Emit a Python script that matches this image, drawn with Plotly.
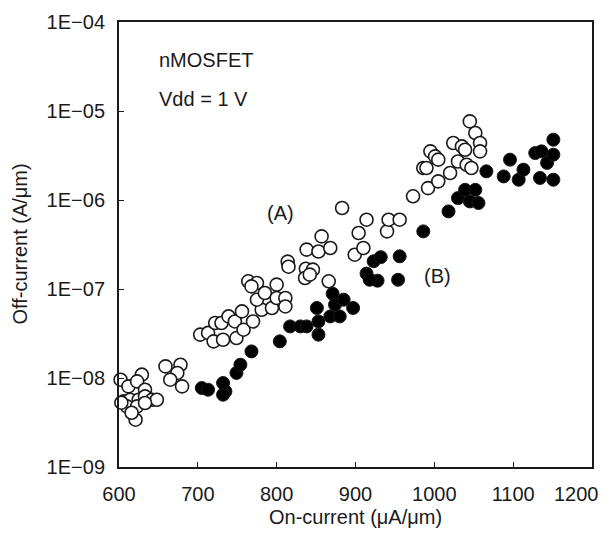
import plotly.graph_objects as go

# Series (A): open circles
a_on = [602, 612, 629, 623, 633, 606, 614, 625, 633, 642, 648, 610, 623, 633, 621, 616, 603,
        659, 678, 674, 665, 680,
        703, 713, 722, 720, 730, 732, 739, 749, 747, 758, 756, 770,
        764, 775, 768, 781, 775, 785, 800, 794, 800, 811, 811,
        814, 815, 837, 846, 836, 842, 866, 838, 853, 868, 857,
        883, 899, 910, 904, 914, 940, 942, 956,
        973, 992, 1005, 1020, 986, 990, 995, 1001, 1005, 1024, 1035, 1039, 1030, 1041, 1047,
        1045, 1052, 1058, 1058]
a_off = [9.57e-9, 8.05e-9, 1.09e-8, 9.16e-9, 7.39e-9, 5.46e-9, 5.70e-9, 5.70e-9, 6.21e-9, 5.70e-9,
         5.70e-9, 4.80e-9, 4.80e-9, 5.24e-9, 3.40e-9, 4.07e-9, 5.28e-9,
         1.35e-8, 1.41e-8, 1.14e-8, 9.57e-9, 8.05e-9,
         3.07e-8, 3.21e-8, 4.15e-8, 2.58e-8, 4.15e-8, 2.69e-8, 4.92e-8, 2.81e-8, 4.32e-8, 3.49e-8,
         5.60e-8, 4.32e-8,
         1.22e-7, 1.17e-7, 1.07e-7, 5.85e-8, 7.58e-8, 9.02e-8, 1.12e-7, 6.12e-8, 7.92e-8, 7.92e-8,
         6.37e-8,
         2.03e-7, 1.78e-7, 1.69e-7, 1.65e-7, 1.33e-7, 1.45e-7, 1.22e-7, 2.77e-7, 2.64e-7, 2.89e-7,
         3.90e-7,
         8.13e-7, 2.43e-7, 2.89e-7, 4.26e-7, 6.01e-7, 4.44e-7, 6.01e-7, 6.01e-7,
         1.10e-6, 1.36e-6, 1.62e-6, 2.01e-6, 2.29e-6, 2.29e-6, 3.52e-6, 3.09e-6, 2.84e-6, 4.37e-6,
         4.00e-6, 3.67e-6, 2.71e-6, 2.49e-6, 2.29e-6,
         7.64e-6, 5.66e-6, 4.37e-6, 3.52e-6]

# Series (B): filled circles
b_on = [705, 713, 735, 732, 732, 749, 754, 768,
        804, 817, 830, 838, 853, 853, 851, 868, 880, 871, 874, 885, 897,
        914, 923, 932, 928, 918, 954, 956, 986,
        1018, 1030, 1039, 1045, 1052, 1056,
        1066, 1088, 1096, 1107, 1113, 1128, 1136, 1134, 1143, 1151, 1151, 1151]
b_off = [7.72e-9, 7.39e-9, 7.07e-9, 6.49e-9, 8.78e-9, 1.14e-8, 1.41e-8, 1.99e-8,
         2.58e-8, 3.80e-8, 3.80e-8, 3.80e-8, 3.07e-8, 4.32e-8, 6.12e-8, 4.92e-8, 4.92e-8, 8.85e-8,
         6.67e-8, 7.58e-8, 6.12e-8,
         1.49e-7, 2.05e-7, 2.28e-7, 1.24e-7, 1.27e-7, 1.27e-7, 2.33e-7, 4.44e-7,
         7.45e-7, 1.05e-6, 1.30e-6, 9.64e-7, 1.30e-6, 9.25e-7,
         2.10e-6, 1.84e-6, 2.84e-6, 1.69e-6, 2.19e-6, 3.37e-6, 3.52e-6, 1.77e-6, 2.61e-6, 4.76e-6,
         3.23e-6, 1.69e-6]

x_ticks = [600, 700, 800, 900, 1000, 1100, 1200]
x_tick_text = ["600", "700", "800", "900", "1000", "1100", "1200"]
y_ticks = [1e-9, 1e-8, 1e-7, 1e-6, 1e-5, 1e-4]
y_tick_text = ["1E\u221209", "1E\u221208", "1E\u221207", "1E\u221206", "1E\u221205", "1E\u221204"]

FONT = "Liberation Sans, Arial, Helvetica, sans-serif"
INK = "#1a1a1a"
FS = 20

fig = go.Figure()
fig.add_trace(go.Scatter(
    x=a_on, y=a_off, mode="markers", name="(A)", cliponaxis=False,
    marker=dict(symbol="circle", size=13, color="white", line=dict(color=INK, width=1.6)),
))
fig.add_trace(go.Scatter(
    x=b_on, y=b_off, mode="markers", name="(B)", cliponaxis=False,
    marker=dict(symbol="circle", size=13, color="black", line=dict(color=INK, width=1.0)),
))

# the last x tick label is drawn as an annotation, nudged left to stay inside the page
shown_x_text = x_tick_text[:-1] + [""]

fig.update_layout(
    width=612, height=540,
    margin=dict(l=119, r=20, t=22, b=73, autoexpand=False),
    paper_bgcolor="white", plot_bgcolor="white",
    showlegend=False,
    font=dict(family=FONT, size=FS, color=INK),
    xaxis=dict(
        range=[600, 1200], tickvals=x_ticks, ticktext=shown_x_text,
        ticks="inside", ticklen=5, tickwidth=1.2, tickcolor=INK,
        showline=True, linewidth=2, linecolor=INK, mirror=True,
        showgrid=False, zeroline=False, automargin=False,
        tickfont=dict(family=FONT, size=FS, color=INK),
        ticklabelstandoff=8, ticklabeloverflow="allow",
    ),
    yaxis=dict(
        type="log", range=[-9, -4], tickvals=y_ticks, ticktext=y_tick_text,
        ticks="inside", ticklen=5, tickwidth=1.2, tickcolor=INK,
        showline=True, linewidth=2, linecolor=INK, mirror=True,
        showgrid=False, zeroline=False, automargin=False,
        tickfont=dict(family=FONT, size=FS, color=INK),
        ticklabelstandoff=8, ticklabeloverflow="allow",
    ),
    annotations=[
        dict(x=x_ticks[-1], y=0, xref="x", yref="paper", xshift=-16, yshift=-27,
             text=x_tick_text[-1], showarrow=False, xanchor="center", yanchor="middle",
             font=dict(family=FONT, size=FS, color=INK)),
        dict(x=0.5, y=0, xref="paper", yref="paper", yshift=-50, text="On-current (\u03bcA/\u03bcm)",
             showarrow=False, xanchor="center", yanchor="middle", font=dict(family=FONT, size=FS, color=INK)),
        dict(x=0, y=0.5, xref="paper", yref="paper", xshift=-100, text="Off-current (A/\u03bcm)",
             textangle=-90, showarrow=False, xanchor="center", yanchor="middle",
             font=dict(family=FONT, size=FS, color=INK)),
        dict(x=0.08, y=0.915, xref="paper", yref="paper", text="nMOSFET", showarrow=False,
             xanchor="left", yanchor="middle", font=dict(family=FONT, size=FS, color=INK)),
        dict(x=0.08, y=0.828, xref="paper", yref="paper", text="Vdd = 1 V", showarrow=False,
             xanchor="left", yanchor="middle", font=dict(family=FONT, size=FS, color=INK)),
        dict(x=805, y=-6.15, xref="x", yref="y", text="(A)", showarrow=False,
             xanchor="center", yanchor="middle", font=dict(family=FONT, size=FS, color=INK)),
        dict(x=1004, y=-6.85, xref="x", yref="y", text="(B)", showarrow=False,
             xanchor="center", yanchor="middle", font=dict(family=FONT, size=FS, color=INK)),
    ],
)

fig.write_html("out.html", config={"displayModeBar": False},
               post_script="document.body.style.margin='0';")
